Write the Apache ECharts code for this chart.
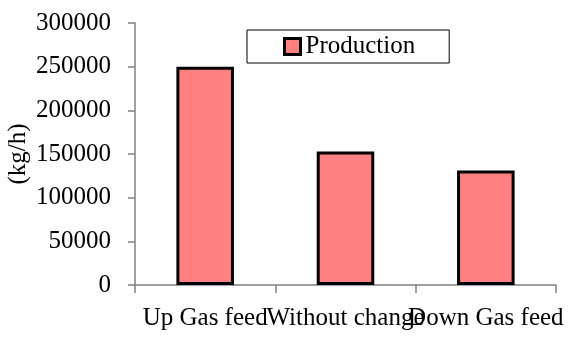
<!DOCTYPE html>
<html>
<head>
<meta charset="utf-8">
<script src="https://cdn.jsdelivr.net/npm/echarts@6/dist/echarts.min.js"></script>
<style>
  html, body { margin: 0; padding: 0; background: #fff; }
  #chart { width: 572px; height: 338px; }
</style>
</head>
<body>
<div id="chart"></div>
<script>
// Production rate per gas-feed scenario (kg/h)
const categories = ['Up Gas feed', 'Without change', 'Down Gas feed'];
const production = [250000, 153000, 131000];
const seriesName = 'Production';
const yTicks = { min: 0, max: 300000, interval: 50000 };
const yName = '(kg/h)';

const FONT = '"Liberation Serif", "DejaVu Serif", serif';
const AXIS_GREY = '#808080';

const chart = echarts.init(document.getElementById('chart'), null, { renderer: 'canvas' });

chart.setOption({
  animation: false,
  backgroundColor: '#ffffff',
  textStyle: { fontFamily: FONT },
  grid: { left: 135, right: 16, top: 23, bottom: 53, containLabel: false, outerBoundsMode: 'none' },
  legend: {
    data: [{ name: seriesName, icon: 'rect' }],
    left: 247,
    top: 30,
    orient: 'horizontal',
    itemWidth: 16,
    itemHeight: 16,
    itemGap: 0,
    padding: [4, 34, 4, 36],
    borderColor: '#000000',
    borderWidth: 1,
    backgroundColor: '#ffffff',
    textStyle: { fontFamily: FONT, fontSize: 25, color: '#000', lineHeight: 25, padding: [0, 0, 0, 0] },
    itemStyle: { color: '#FF8080', borderColor: '#000', borderWidth: 3 }
  },
  xAxis: {
    type: 'category',
    data: categories,
    boundaryGap: true,
    axisLine: { lineStyle: { color: AXIS_GREY, width: 1.5 } },
    axisTick: { show: true, alignWithLabel: false, length: 8, lineStyle: { color: AXIS_GREY, width: 1.5 } },
    axisLabel: { fontFamily: FONT, fontSize: 25, color: '#000', margin: 21, interval: 0 },
    splitLine: { show: false }
  },
  yAxis: {
    type: 'value',
    min: yTicks.min,
    max: yTicks.max,
    interval: yTicks.interval,
    name: yName,
    nameLocation: 'middle',
    nameRotate: 90,
    nameGap: 104,
    nameMoveOverlap: false,
    nameTextStyle: { fontFamily: FONT, fontSize: 25, color: '#000' },
    axisLine: { show: true, lineStyle: { color: AXIS_GREY, width: 1.5 } },
    axisTick: { show: true, inside: false, length: 7, lineStyle: { color: AXIS_GREY, width: 1.5 } },
    axisLabel: { fontFamily: FONT, fontSize: 25, color: '#000', margin: 24, formatter: v => String(v) },
    splitLine: { show: false }
  },
  series: [{
    name: seriesName,
    type: 'bar',
    data: production,
    barWidth: '41%',
    itemStyle: { color: '#FF8080', borderColor: '#000000', borderWidth: 3 }
  }]
});
</script>
</body>
</html>
